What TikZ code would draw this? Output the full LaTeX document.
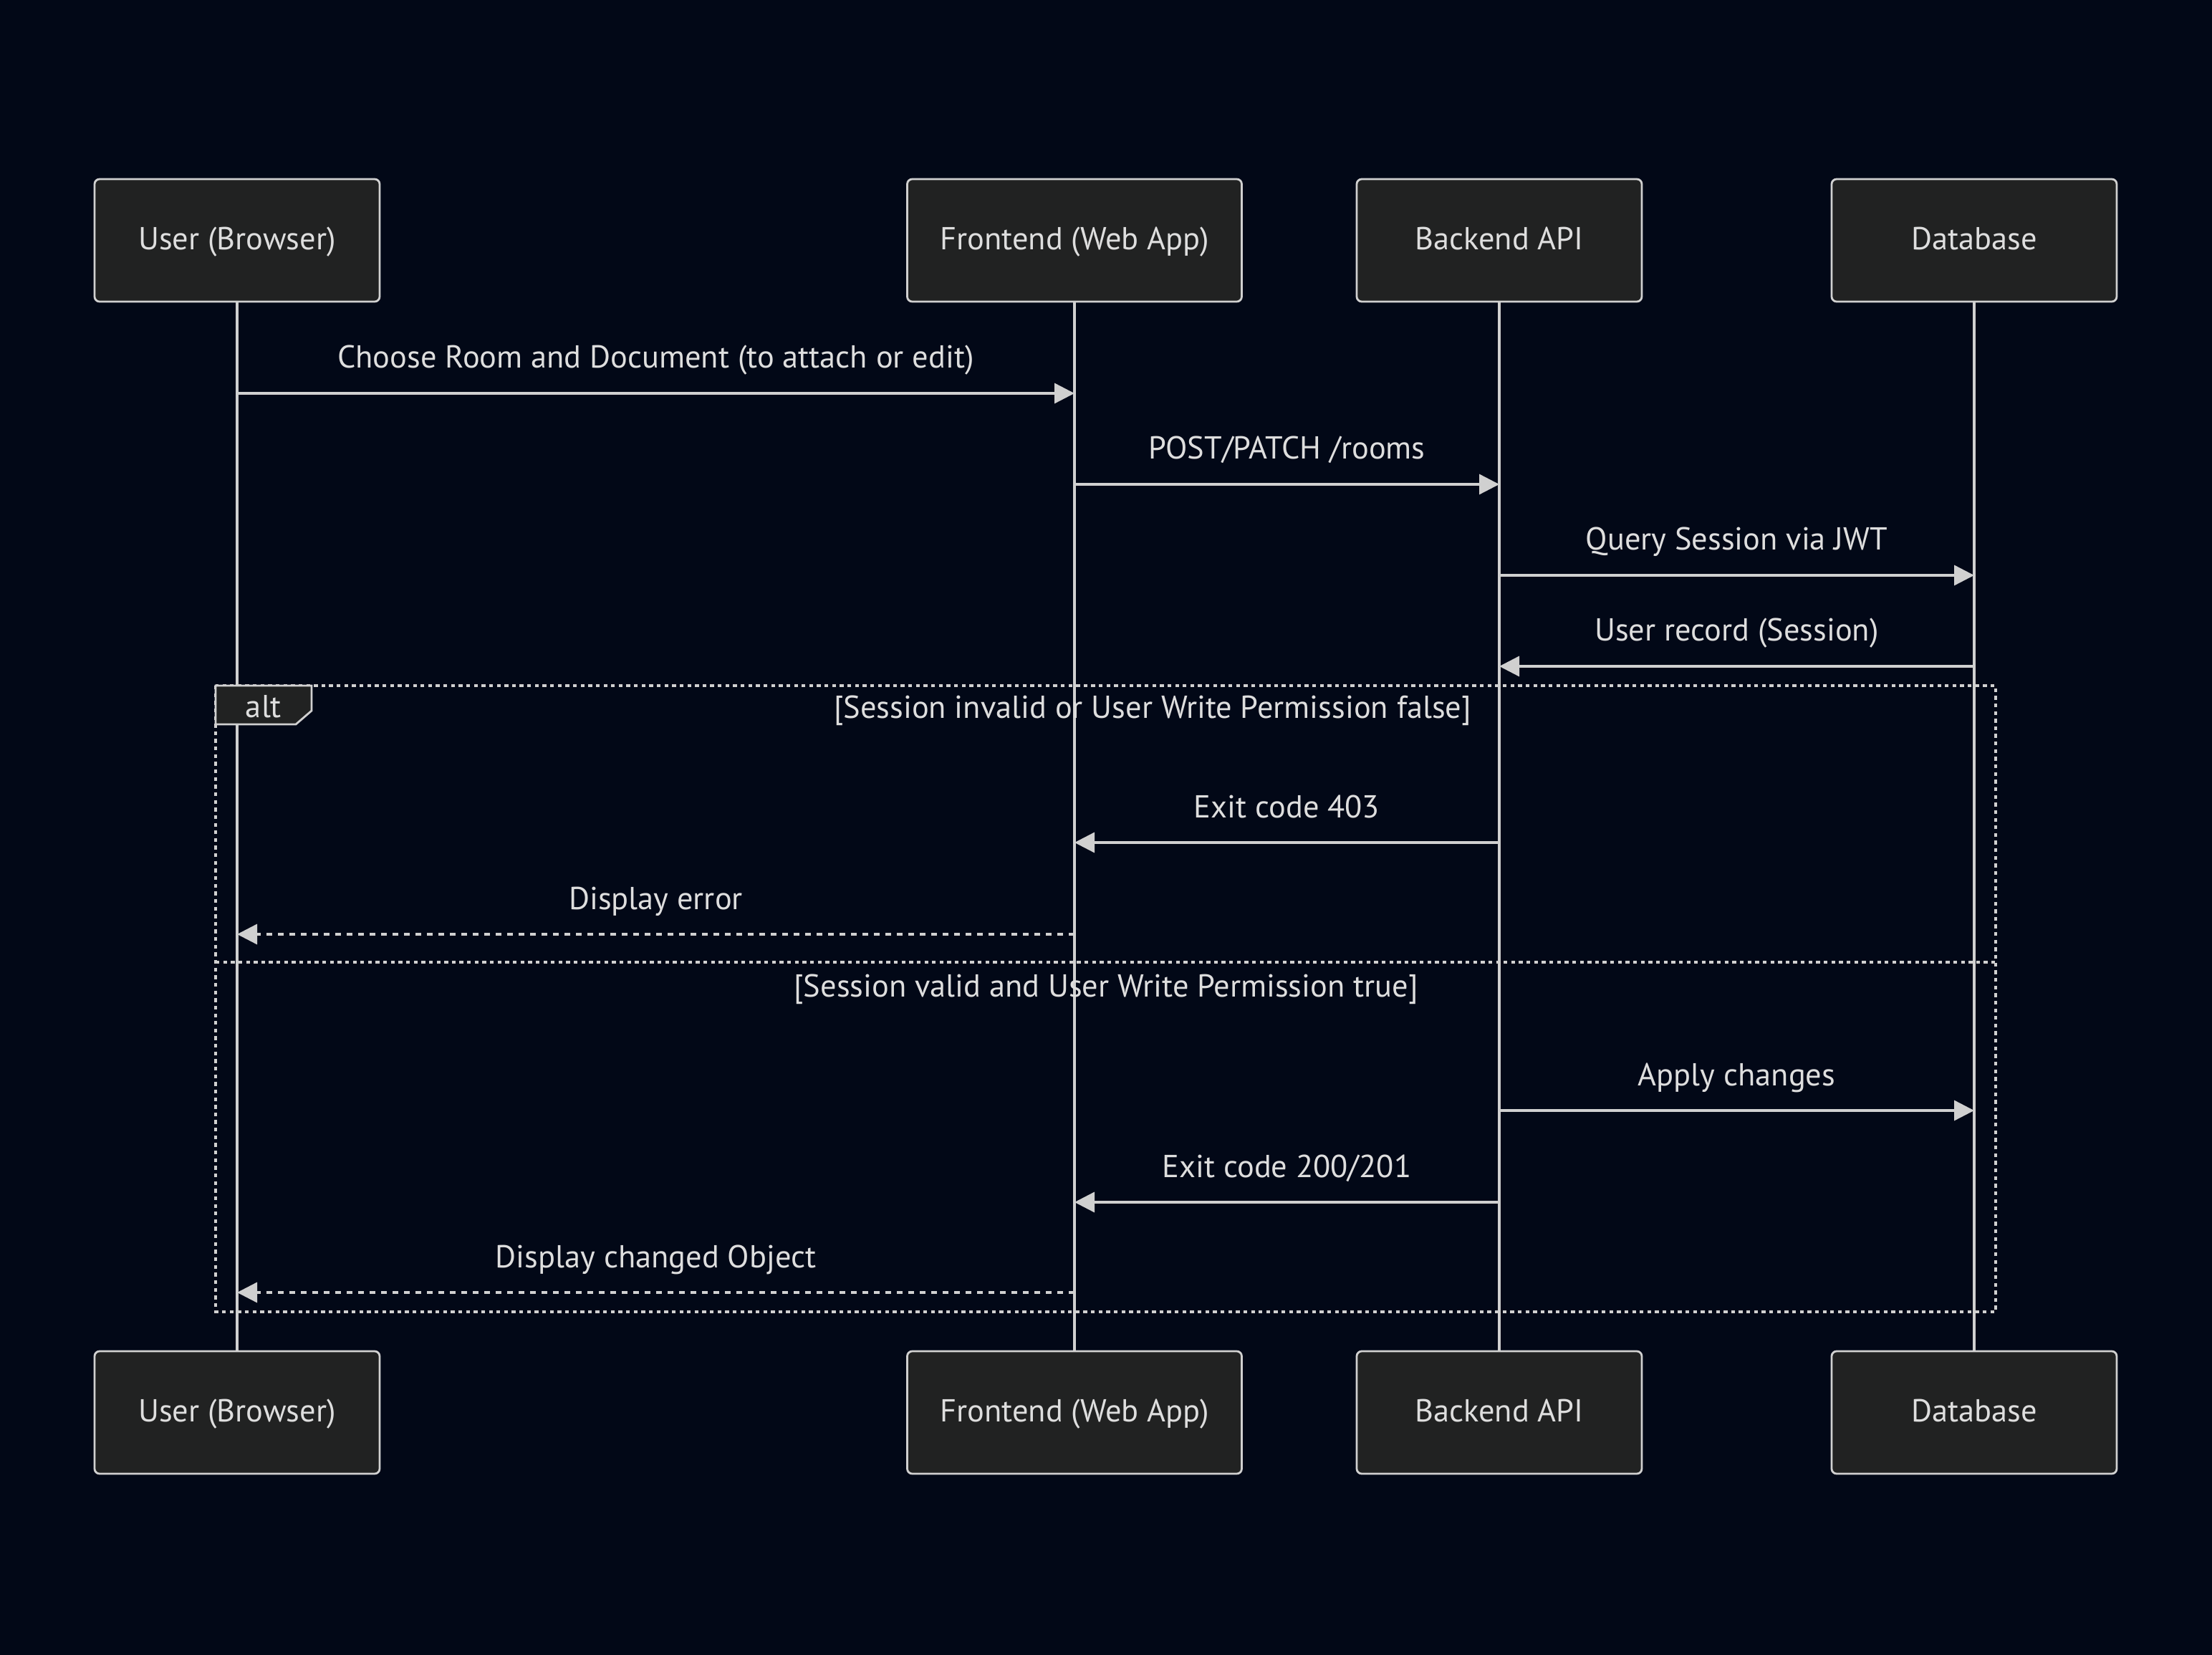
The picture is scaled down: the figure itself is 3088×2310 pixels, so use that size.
\documentclass[tikz,border=0pt]{standalone}
\usepackage{fontspec}
\setmainfont{PT Sans}
\usetikzlibrary{arrows.meta}

\definecolor{bgcol}{RGB}{2,8,23}
\definecolor{boxfill}{RGB}{33,34,34}
\definecolor{linecol}{RGB}{208,208,208}
\definecolor{textcol}{RGB}{222,222,222}

\begin{document}
\begin{tikzpicture}[x=0.25pt,y=-0.25pt,
  lbl/.style={text=textcol, font=\fontsize{11.1}{13}\selectfont, inner sep=0pt},
  actor/.style={draw=linecol, fill=boxfill, line width=0.7pt, rounded corners=1.75pt,
    minimum height=42.75pt, text=textcol, font=\fontsize{11.1}{13}\selectfont,
    text height=0.66em, text depth=0pt, inner sep=0pt},
  life/.style={draw=linecol, line width=1.2pt},
  msg/.style={draw=linecol, line width=0.85pt, -{Triangle[length=7pt,width=7pt]}},
  reply/.style={msg, dash pattern=on 2pt off 2pt},
  altline/.style={draw=linecol, line width=1pt, dash pattern=on 1.33pt off 1.33pt},
  tabbox/.style={draw=linecol, fill=boxfill, line width=0.7pt}
]
\useasboundingbox (0,0) rectangle (3088,2310);
\fill[bgcol] (0,0) rectangle (3088,2310);

% lifeline anchors: participant boxes, top row
\path
  node[actor, minimum width=99.5pt]   (uTop) at (331,335.5)  {User (Browser)}
  node[actor, minimum width=116.75pt] (fTop) at (1500,335.5) {Frontend (Web App)}
  node[actor, minimum width=99.5pt]   (bTop) at (2093,335.5) {Backend API}
  node[actor, minimum width=99.5pt]   (dTop) at (2756,335.5) {Database};

% participant boxes, bottom row
\path
  node[actor, minimum width=99.5pt]   (uBot) at (331,1971.5)  {User (Browser)}
  node[actor, minimum width=116.75pt] (fBot) at (1500,1971.5) {Frontend (Web App)}
  node[actor, minimum width=99.5pt]   (bBot) at (2093,1971.5) {Backend API}
  node[actor, minimum width=99.5pt]   (dBot) at (2756,1971.5) {Database};

% lifelines
\draw[life] (uTop) -- (uBot);
\draw[life] (fTop) -- (fBot);
\draw[life] (bTop) -- (bBot);
\draw[life] (dTop) -- (dBot);

% alt fragment with its two branches
\draw[altline] (301,957) rectangle (2786,1831);
\draw[altline] (301,1343) -- (2786,1343);
\draw[tabbox] (301,957) -- (435,957) -- (435,992) -- (413,1011) -- (301,1011) -- cycle;
\node[lbl, anchor=base] (altTag) at (368,1002) {alt};
\node[lbl, anchor=base] (cond1) at (1609,1003) {[Session invalid or User Write Permission false]};
\node[lbl, anchor=base] (cond2) at (1544,1391) {[Session valid and User Write Permission true]};

% message rows
\coordinate (m1) at (0,549);
\coordinate (m2) at (0,676);
\coordinate (m3) at (0,803);
\coordinate (m4) at (0,930);
\coordinate (m5) at (0,1176);
\coordinate (m6) at (0,1304);
\coordinate (m7) at (0,1550);
\coordinate (m8) at (0,1678);
\coordinate (m9) at (0,1804);

\draw[msg] (uTop |- m1) -- (fTop |- m1)
  node[lbl, midway, anchor=base, yshift=8.75pt] (t1) {Choose Room and Document (to attach or edit)};
\draw[msg] (fTop |- m2) -- (bTop |- m2)
  node[lbl, midway, anchor=base, yshift=8.75pt] (t2) {POST/PATCH /rooms};
\draw[msg] (bTop |- m3) -- (dTop |- m3)
  node[lbl, midway, anchor=base, yshift=8.75pt] (t3) {Query Session via JWT};
\draw[msg] (dTop |- m4) -- (bTop |- m4)
  node[lbl, midway, anchor=base, yshift=8.75pt] (t4) {User record (Session)};
\draw[msg] (bTop |- m5) -- (fTop |- m5)
  node[lbl, midway, anchor=base, yshift=8.75pt] (t5) {Exit code 403};
\draw[reply] (fTop |- m6) -- (uTop |- m6)
  node[lbl, midway, anchor=base, yshift=8.75pt] (t6) {Display error};
\draw[msg] (bTop |- m7) -- (dTop |- m7)
  node[lbl, midway, anchor=base, yshift=8.75pt] (t7) {Apply changes};
\draw[msg] (bTop |- m8) -- (fTop |- m8)
  node[lbl, midway, anchor=base, yshift=8.75pt] (t8) {Exit code 200/201};
\draw[reply] (fTop |- m9) -- (uTop |- m9)
  node[lbl, midway, anchor=base, yshift=8.75pt] (t9) {Display changed Object};
\end{tikzpicture}
\end{document}
